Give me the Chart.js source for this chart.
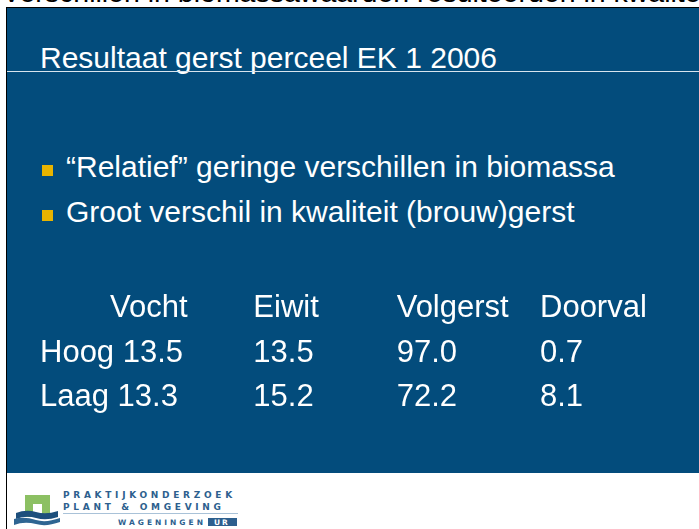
<!DOCTYPE html>
<html><head><meta charset="utf-8">
<script src="https://cdn.jsdelivr.net/npm/chart.js@4/dist/chart.umd.min.js"></script>
<style>
html,body{margin:0;padding:0;background:#fff;}
#page{position:relative;width:699px;height:529px;overflow:hidden;background:#fff;font-family:"Liberation Sans Narrow","Liberation Sans",sans-serif;}
#toptext{position:absolute;left:2px;top:-24px;font-family:"Liberation Sans",Arial,sans-serif;font-size:28.5px;color:#000;white-space:nowrap;}
#slide{position:absolute;left:6px;top:7px;width:693px;height:465px;background:#034c7c;border-left:1px solid #000;border-top:1px solid #000;}
#leftline{position:absolute;left:6px;top:7px;width:1px;height:522px;background:#000;}
#title{position:absolute;left:40px;top:41px;color:#fff;font-size:30px;white-space:nowrap;}
#rule{position:absolute;left:7px;top:71px;width:692px;height:1px;background:#d8e4ee;}
.bul{position:absolute;left:66px;color:#fff;font-size:30px;white-space:nowrap;}
.sq{position:absolute;left:42px;width:11px;height:11px;background:#e8b400;}
#tbl{position:absolute;left:0;top:280px;width:699px;height:140px;}
#logo{position:absolute;left:0;top:472px;width:300px;height:57px;}
</style></head>
<body><div id="page">
<div id="toptext">Verschillen in biomassawaarden resulteerden in kwaliteit</div>
<div id="slide"></div>
<div id="leftline"></div>
<div id="title">Resultaat gerst perceel EK 1 2006</div>
<div id="rule"></div>
<div class="sq" style="top:165px"></div>
<div class="bul" style="top:150px">“Relatief” geringe verschillen in biomassa</div>
<div class="sq" style="top:210px"></div>
<div class="bul" style="top:195px">Groot verschil in kwaliteit (brouw)gerst</div>
<div id="tbl"><canvas id="c" width="699" height="140"></canvas></div>
<svg id="logo" width="300" height="57" viewBox="0 0 300 57">
  <path d="M25 23 H50 V45 H42 V32 H33 V45 H25 Z" fill="#8cc063"/>
  <path d="M16 41 Q26 37 36 40 Q46 43 58 39 L58 45 Q46 49 36 46 Q26 43 16 47 Z" fill="#1d4f7c"/>
  <path d="M14 47 Q24 44 36 48 Q46 51 60 46 L60 50 Q46 55 36 52 Q24 49 14 53 Z" fill="#2f6592"/>
  <text x="63" y="26" font-family="DejaVu Sans" font-weight="bold" font-size="9" letter-spacing="3.7" fill="#2d5f8e">PRAKTIJKONDERZOEK</text>
  <text x="63" y="38" font-family="DejaVu Sans" font-weight="bold" font-size="9" letter-spacing="3.7" fill="#2d5f8e">PLANT &amp; OMGEVING</text>
  <rect x="63" y="41" width="175" height="1" fill="#a9c2d8"/>
  <text x="118" y="53" font-family="DejaVu Sans" font-weight="bold" font-size="7.5" letter-spacing="3.0" fill="#2d5f8e">WAGENINGEN</text>
  <rect x="208" y="46" width="29" height="8" fill="#2d5f8e"/>
  <text x="214" y="53" font-family="DejaVu Sans" font-weight="bold" font-size="7.5" letter-spacing="2" fill="#fff">UR</text>
</svg>
</div>
<script>
const columns = ['Vocht', 'Eiwit', 'Volgerst', 'Doorval'];
const rows = ['', 'Hoog', 'Laag'];
const hoog = [13.5, 13.5, 97.0, 0.7];
const laag = [13.3, 15.2, 72.2, 8.1];

const FONT = '31px "Liberation Sans Narrow", "Liberation Sans", sans-serif';

const tablePlugin = {
  id: 'tableText',
  afterDatasetsDraw(chart) {
    const ctx = chart.ctx;
    const xs = chart.scales.x, ys = chart.scales.y;
    ctx.save();
    ctx.font = FONT;
    ctx.fillStyle = '#ffffff';
    ctx.textBaseline = 'alphabetic';
    ctx.textAlign = 'left';
    const labelX = chart.chartArea.left - 70;
    columns.forEach((c, i) => {
      ctx.fillText(c, xs.getPixelForValue(i), ys.getPixelForValue(0));
    });
    chart.data.datasets.forEach((ds, di) => {
      const meta = chart.getDatasetMeta(di);
      const rowY = ys.getPixelForValue(rows.indexOf(ds.label));
      ctx.fillText(ds.label, labelX, rowY);
      meta.data.forEach((pt, i) => {
        const txt = ds.data[i].v.toFixed(1);
        let x = pt.x;
        if (i === 0) x = labelX + ctx.measureText(ds.label + ' ').width;
        ctx.fillText(txt, x, pt.y);
      });
    });
    ctx.restore();
  }
};

const mk = (label, vals) => ({
  label,
  data: vals.map((v, i) => ({ x: columns[i], y: label, v })),
  showLine: false,
  pointRadius: 0,
  pointHoverRadius: 0
});

new Chart(document.getElementById('c'), {
  type: 'line',
  data: { datasets: [mk('Hoog', hoog), mk('Laag', laag)] },
  options: {
    responsive: false,
    animation: false,
    events: [],
    layout: { padding: { left: 110, right: 159, top: 37, bottom: 14 } },
    plugins: { legend: { display: false }, tooltip: { enabled: false } },
    scales: {
      x: { type: 'category', labels: columns, offset: false, display: false },
      y: { type: 'category', labels: rows, offset: false, display: false }
    }
  },
  plugins: [tablePlugin]
});
</script>
</body></html>
